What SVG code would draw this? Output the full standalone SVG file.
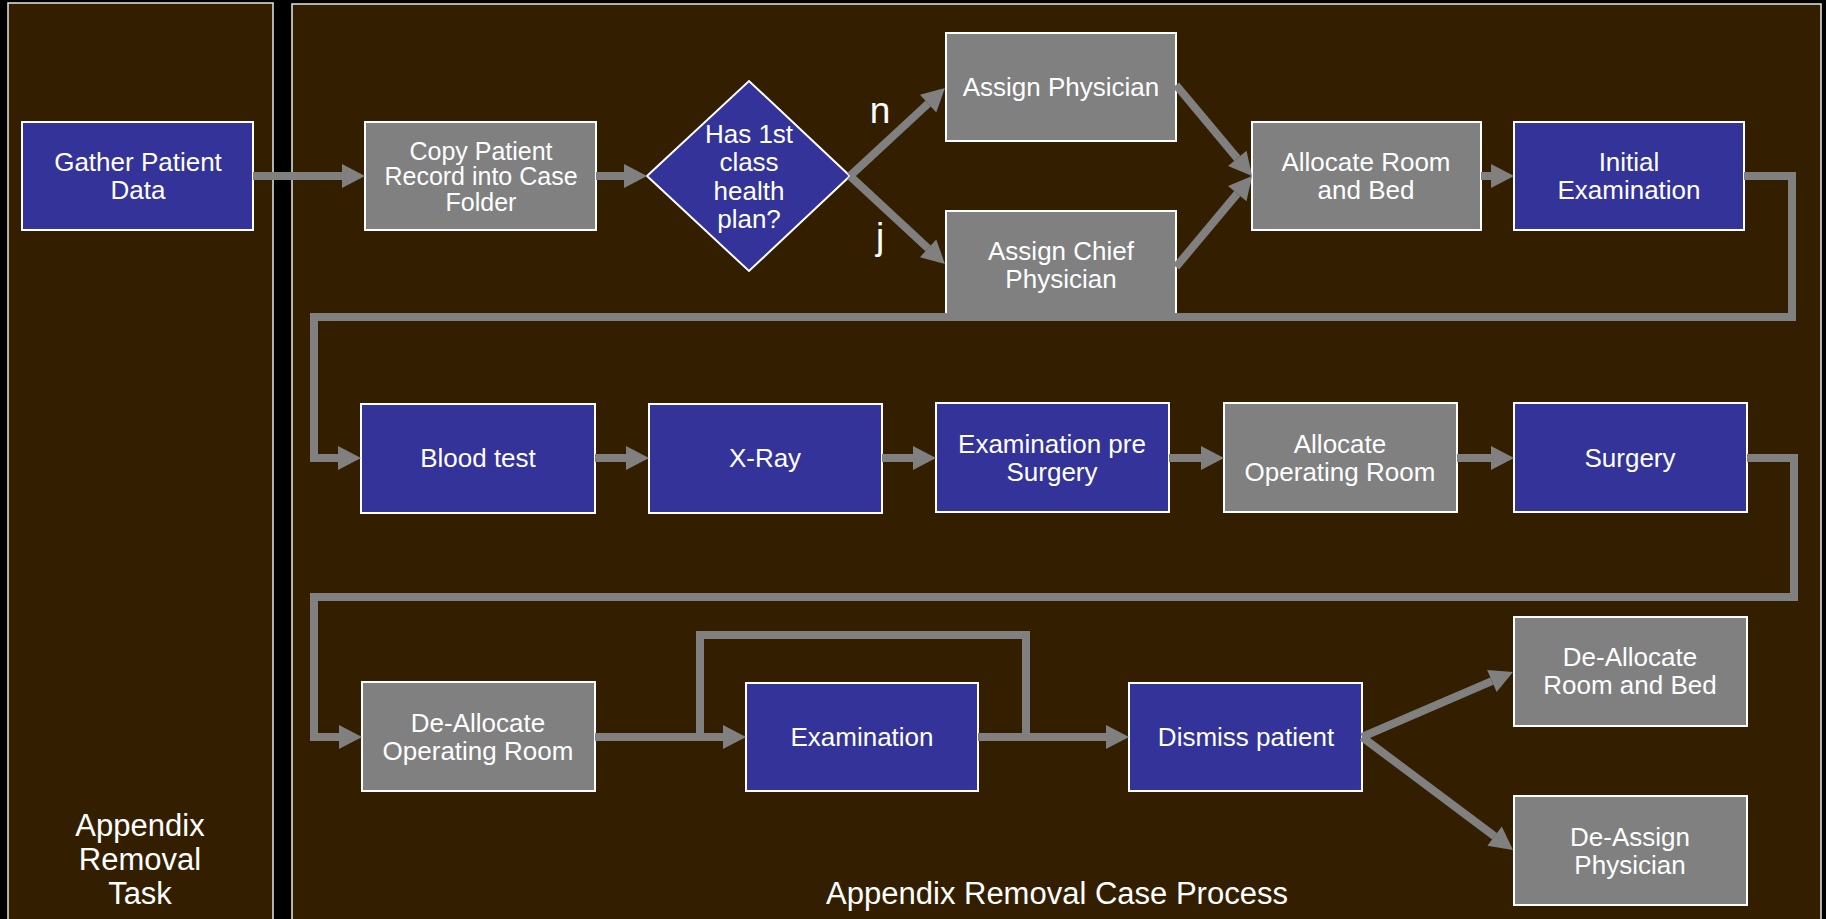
<svg xmlns="http://www.w3.org/2000/svg" width="1826" height="919" viewBox="0 0 1826 919">
  <style>
    .lane { fill: #331F00; stroke: #E8E8E8; stroke-width: 1.5; }
    .task { fill: #333399; stroke: #FFFFFF; stroke-width: 2; }
    .res { fill: #808080; stroke: #FFFFFF; stroke-width: 2; }
    text { font-family: "Liberation Sans", Arial, Helvetica, sans-serif; fill: #FFFFFF; text-anchor: middle; }
    .lbl { font-size: 26px; }
    .tight { font-size: 25px; }
    .big { font-size: 31px; }
    .flag { font-size: 37px; }
    .flow { fill: none; stroke: #808080; stroke-width: 8; stroke-linejoin: miter; stroke-linecap: butt; }
  </style>
  <defs>
    <marker id="head" markerUnits="userSpaceOnUse" markerWidth="24" markerHeight="26" refX="0" refY="12" orient="auto" overflow="visible">
      <path d="M0,0 L23,12 L0,24 Z" fill="#808080"/>
    </marker>
  </defs>

  <rect x="0" y="0" width="1826" height="919" fill="#000000"/>

  <!-- swimlanes -->
  <g id="lane-task">
    <rect class="lane" x="8" y="3" width="265" height="930"/>
    <text class="big" x="140" y="836">Appendix</text>
    <text class="big" x="140" y="870">Removal</text>
    <text class="big" x="140" y="904">Task</text>
  </g>
  <g id="lane-process">
    <rect class="lane" x="292" y="4" width="1529" height="930"/>
    <text class="big" x="1057" y="904">Appendix Removal Case Process</text>
  </g>

  <!-- activities -->
  <g id="gather">
    <rect class="task" x="22" y="122" width="231" height="108"/>
    <text class="lbl" x="138" y="171">Gather Patient</text>
    <text class="lbl" x="138" y="199">Data</text>
  </g>
  <g id="copy">
    <rect class="res" x="365" y="122" width="231" height="108"/>
    <text class="tight" x="481" y="159.5">Copy Patient</text>
    <text class="tight" x="481" y="185">Record into Case</text>
    <text class="tight" x="481" y="210.5">Folder</text>
  </g>
  <g id="decision">
    <path class="task" d="M647,176 L749,81 L850,176 L749,271 Z"/>
    <text class="lbl" x="749" y="142.5">Has 1st</text>
    <text class="lbl" x="749" y="171">class</text>
    <text class="lbl" x="749" y="199.5">health</text>
    <text class="lbl" x="749" y="228">plan?</text>
  </g>
  <g id="assign">
    <rect class="res" x="946" y="33" width="230" height="108"/>
    <text class="lbl" x="1061" y="96">Assign Physician</text>
  </g>
  <g id="assign-chief">
    <rect class="res" x="946" y="211" width="230" height="108"/>
    <text class="lbl" x="1061" y="260">Assign Chief</text>
    <text class="lbl" x="1061" y="288">Physician</text>
  </g>
  <g id="alloc-room">
    <rect class="res" x="1252" y="122" width="229" height="108"/>
    <text class="lbl" x="1366" y="171">Allocate Room</text>
    <text class="lbl" x="1366" y="199">and Bed</text>
  </g>
  <g id="initial-exam">
    <rect class="task" x="1514" y="122" width="230" height="108"/>
    <text class="lbl" x="1629" y="171">Initial</text>
    <text class="lbl" x="1629" y="199">Examination</text>
  </g>
  <g id="blood">
    <rect class="task" x="361" y="404" width="234" height="109"/>
    <text class="lbl" x="478" y="467">Blood test</text>
  </g>
  <g id="xray">
    <rect class="task" x="649" y="404" width="233" height="109"/>
    <text class="lbl" x="765" y="467">X-Ray</text>
  </g>
  <g id="exam-pre">
    <rect class="task" x="936" y="403" width="233" height="109"/>
    <text class="lbl" x="1052" y="453">Examination pre</text>
    <text class="lbl" x="1052" y="481">Surgery</text>
  </g>
  <g id="alloc-or">
    <rect class="res" x="1224" y="403" width="233" height="109"/>
    <text class="lbl" x="1340" y="453">Allocate</text>
    <text class="lbl" x="1340" y="481">Operating Room</text>
  </g>
  <g id="surgery">
    <rect class="task" x="1514" y="403" width="233" height="109"/>
    <text class="lbl" x="1630" y="467">Surgery</text>
  </g>
  <g id="dealloc-or">
    <rect class="res" x="362" y="682" width="233" height="109"/>
    <text class="lbl" x="478" y="732">De-Allocate</text>
    <text class="lbl" x="478" y="760">Operating Room</text>
  </g>
  <g id="exam">
    <rect class="task" x="746" y="683" width="232" height="108"/>
    <text class="lbl" x="862" y="746">Examination</text>
  </g>
  <g id="dismiss">
    <rect class="task" x="1129" y="683" width="233" height="108"/>
    <text class="lbl" x="1246" y="746">Dismiss patient</text>
  </g>
  <g id="dealloc-room">
    <rect class="res" x="1514" y="617" width="233" height="109"/>
    <text class="lbl" x="1630" y="666">De-Allocate</text>
    <text class="lbl" x="1630" y="694">Room and Bed</text>
  </g>
  <g id="deassign">
    <rect class="res" x="1514" y="796" width="233" height="109"/>
    <text class="lbl" x="1630" y="846">De-Assign</text>
    <text class="lbl" x="1630" y="874">Physician</text>
  </g>

  <!-- sequence flows -->
  <g id="connectors">
    <path class="flow" marker-end="url(#head)" d="M253,176 H342"/>
    <path class="flow" marker-end="url(#head)" d="M596,176 H624"/>
    <path class="flow" marker-end="url(#head)" d="M850,176 L928.1,103.6"/>
    <path class="flow" marker-end="url(#head)" d="M850,176 L928.1,248.4"/>
    <path class="flow" marker-end="url(#head)" d="M1176,85 L1237.3,158.4"/>
    <path class="flow" marker-end="url(#head)" d="M1176,267 L1237.3,193.6"/>
    <path class="flow" marker-end="url(#head)" d="M1481,176 H1491"/>
    <path class="flow" marker-end="url(#head)" d="M1744,176 H1792 V317 H314 V458 H338"/>
    <path class="flow" marker-end="url(#head)" d="M595,458 H626"/>
    <path class="flow" marker-end="url(#head)" d="M882,458 H913"/>
    <path class="flow" marker-end="url(#head)" d="M1169,458 H1201"/>
    <path class="flow" marker-end="url(#head)" d="M1457,458 H1491"/>
    <path class="flow" marker-end="url(#head)" d="M1747,458 H1794 V597 H314 V737 H339"/>
    <path class="flow" marker-end="url(#head)" d="M595,737 H723"/>
    <path class="flow" d="M1026,737 V635 H700 V741"/>
    <path class="flow" marker-end="url(#head)" d="M978,737 H1106"/>
    <path class="flow" marker-end="url(#head)" d="M1362,737 L1491.9,681.1"/>
    <path class="flow" marker-end="url(#head)" d="M1362,737 L1494.6,836.2"/>
    <text class="flag" x="880" y="123">n</text>
    <text class="flag" x="880" y="249">j</text>
  </g>
</svg>
